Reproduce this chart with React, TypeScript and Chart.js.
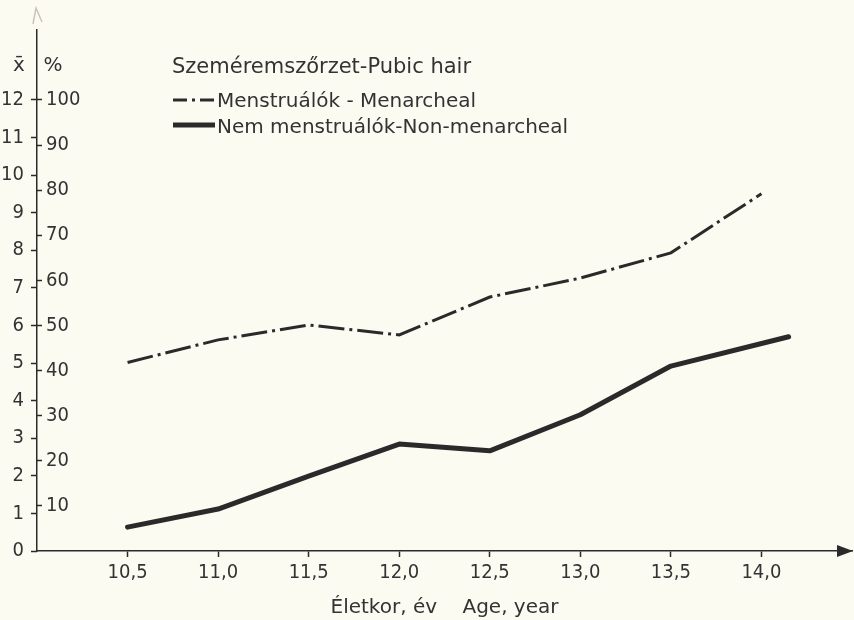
import { useEffect, useRef } from 'react';
import { Chart, registerables } from 'chart.js';

Chart.register(...registerables);

// ---- data ----
const ages = [10.5, 11.0, 11.5, 12.0, 12.5, 13.0, 13.5, 14.0];
const menarchealPct = [41.8, 46.8, 50.1, 47.9, 56.3, 60.5, 66.1, 79.2];
const nonMenarchealAges = [10.5, 11.0, 11.5, 12.0, 12.5, 13.0, 13.5, 14.15];
const nonMenarchealPct = [5.3, 9.3, 16.6, 23.7, 22.2, 30.2, 41.0, 47.5];

const xTickValues = [10.5, 11.0, 11.5, 12.0, 12.5, 13.0, 13.5, 14.0];
const xTickLabels = ['10,5', '11,0', '11,5', '12,0', '12,5', '13,0', '13,5', '14,0'];
const pctTicks = [10, 20, 30, 40, 50, 60, 70, 80, 90, 100];
const meanTicks = [0, 1, 2, 3, 4, 5, 6, 7, 8, 9, 10, 11, 12];

const chartTitle = 'Szeméremszőrzet-Pubic hair';
const seriesLabels = ['Menstruálók - Menarcheal', 'Nem menstruálók-Non-menarcheal'];
const xAxisTitle = 'Életkor, év    Age, year';
const meanHeader = 'x̄';
const pctHeader = '%';

// ---- ranges ----
const X_MIN = 10;
const X_MAX = 14.5;
const PCT_MAX = 115.5;
const MEAN_MAX = (PCT_MAX * 12) / 100;

const INK = '#2a2a2a';
const TEXT = '#333333';
const BG = '#fcfbf2';
const NUM_FONT = '"Liberation Sans Narrow", "DejaVu Sans Condensed", sans-serif';
const TXT_FONT = '"DejaVu Sans", sans-serif';

const decorPlugin = {
  id: 'decor',
  beforeDraw(chart: any) {
    const { ctx, width, height } = chart;
    ctx.save();
    ctx.fillStyle = BG;
    ctx.fillRect(0, 0, width, height);
    ctx.restore();
  },
  afterDraw(chart: any) {
    const { ctx, chartArea } = chart;
    const xs = chart.scales.x;
    const ys = chart.scales.y;
    const axisY = xs.top;
    const axisX = ys.right;
    ctx.save();
    // x-axis arrowhead
    ctx.fillStyle = INK;
    ctx.beginPath();
    ctx.moveTo(chartArea.right + 1, axisY);
    ctx.lineTo(chartArea.right - 15, axisY - 6);
    ctx.lineTo(chartArea.right - 15, axisY + 6);
    ctx.closePath();
    ctx.fill();
    // faint top arrowhead of y axis
    ctx.strokeStyle = '#c9c5b6';
    ctx.lineWidth = 1.5;
    ctx.beginPath();
    ctx.moveTo(axisX - 4, chartArea.top - 6);
    ctx.lineTo(axisX - 1, chartArea.top - 22);
    ctx.lineTo(axisX + 5, chartArea.top - 8);
    ctx.stroke();

    // headers
    ctx.fillStyle = TEXT;
    ctx.textBaseline = 'alphabetic';
    ctx.font = '20px ' + TXT_FONT;
    ctx.textAlign = 'center';
    ctx.fillText(meanHeader, axisX - 18, 71);
    ctx.fillText(pctHeader, axisX + 16, 71);

    // title + legend
    ctx.textAlign = 'left';
    ctx.font = '21px ' + TXT_FONT;
    ctx.fillText(chartTitle, 172, 73);
    ctx.font = '20px ' + TXT_FONT;
    const ds = chart.data.datasets;
    const rows = [
      { y: 100, base: 107, legendDash: [14, 5, 3, 5] },
      { y: 125, base: 133, legendDash: [] as number[] },
    ];
    rows.forEach((r, i) => {
      const d = ds[i];
      ctx.strokeStyle = d.borderColor;
      ctx.lineWidth = d.borderWidth;
      ctx.lineCap = 'butt';
      ctx.setLineDash(r.legendDash);
      ctx.beginPath();
      ctx.moveTo(173, r.y);
      ctx.lineTo(215, r.y);
      ctx.stroke();
      ctx.setLineDash([]);
      ctx.fillStyle = TEXT;
      ctx.fillText(seriesLabels[i], 217, r.base);
    });
    ctx.restore();
  },
};

export default function App() {
  const ref = useRef<HTMLCanvasElement>(null);

  useEffect(() => {
    if (!ref.current) return;
    const chart = new Chart(ref.current, {
      type: 'line',
      data: {
        datasets: [
          {
            label: seriesLabels[0],
            data: ages.map((a, i) => ({ x: a, y: menarchealPct[i] })),
            borderColor: INK,
            borderWidth: 3,
            borderDash: [26, 5, 3, 5],
            pointRadius: 0,
            tension: 0,
            fill: false,
            yAxisID: 'y',
          },
          {
            label: seriesLabels[1],
            data: nonMenarchealAges.map((a, i) => ({ x: a, y: nonMenarchealPct[i] })),
            borderColor: INK,
            borderWidth: 5,
            borderCapStyle: 'round',
            borderJoinStyle: 'round',
            pointRadius: 0,
            tension: 0,
            fill: false,
            yAxisID: 'y',
          },
        ],
      },
      options: {
        responsive: false,
        devicePixelRatio: 1,
        animation: false,
        events: [],
        layout: { padding: { top: 30, right: 2, left: 0, bottom: 0 } },
        plugins: {
          legend: { display: false },
          tooltip: { enabled: false },
        },
        scales: {
          x: {
            type: 'linear',
            position: 'bottom',
            min: X_MIN,
            max: X_MAX,
            afterBuildTicks: (s: any) => {
              s.ticks = xTickValues.map((v) => ({ value: v }));
            },
            afterFit: (s: any) => {
              s.height = 69;
            },
            ticks: {
              autoSkip: false,
              maxRotation: 0,
              padding: 4,
              color: TEXT,
              font: { family: NUM_FONT, size: 20 },
              callback: (_v: any, i: number) => xTickLabels[i],
            },
            grid: {
              drawOnChartArea: false,
              drawTicks: true,
              tickLength: 6,
              color: INK,
              tickColor: INK,
              tickWidth: 1.5,
            },
            border: { display: true, color: INK, width: 1.5 },
            title: {
              display: true,
              text: xAxisTitle,
              color: TEXT,
              font: { family: TXT_FONT, size: 20 },
              padding: { top: 0, bottom: 0 },
            },
          },
          y: {
            type: 'linear',
            position: 'left',
            weight: 0,
            min: 0,
            max: PCT_MAX,
            afterBuildTicks: (s: any) => {
              s.ticks = pctTicks.map((v) => ({ value: v }));
            },
            afterFit: (s: any) => {
              s.width = 0;
            },
            ticks: {
              mirror: true,
              padding: 9,
              autoSkip: false,
              color: TEXT,
              font: { family: NUM_FONT, size: 20 },
              callback: (v: any) => String(v),
            },
            grid: {
              drawOnChartArea: false,
              drawTicks: true,
              tickLength: -5,
              color: INK,
              tickColor: INK,
              tickWidth: 1.5,
            },
            border: { display: true, color: INK, width: 1.5 },
          },
          yMean: {
            type: 'linear',
            position: 'left',
            weight: 1,
            min: 0,
            max: MEAN_MAX,
            afterBuildTicks: (s: any) => {
              s.ticks = meanTicks.map((v) => ({ value: v }));
            },
            afterFit: (s: any) => {
              s.width = 37;
            },
            ticks: {
              padding: 7,
              autoSkip: false,
              color: TEXT,
              font: { family: NUM_FONT, size: 20 },
              callback: (v: any) => String(v),
            },
            grid: {
              drawOnChartArea: false,
              drawTicks: true,
              tickLength: 6,
              color: INK,
              tickColor: INK,
              tickWidth: 1.5,
            },
            border: { display: false },
          },
        },
      },
      plugins: [decorPlugin],
    } as any);
    return () => chart.destroy();
  }, []);

  return (
    <div style={{ position: 'absolute', left: 0, top: 0, width: 854, height: 620, background: BG }}>
      <canvas ref={ref} width={854} height={620} style={{ display: 'block' }} />
    </div>
  );
}
